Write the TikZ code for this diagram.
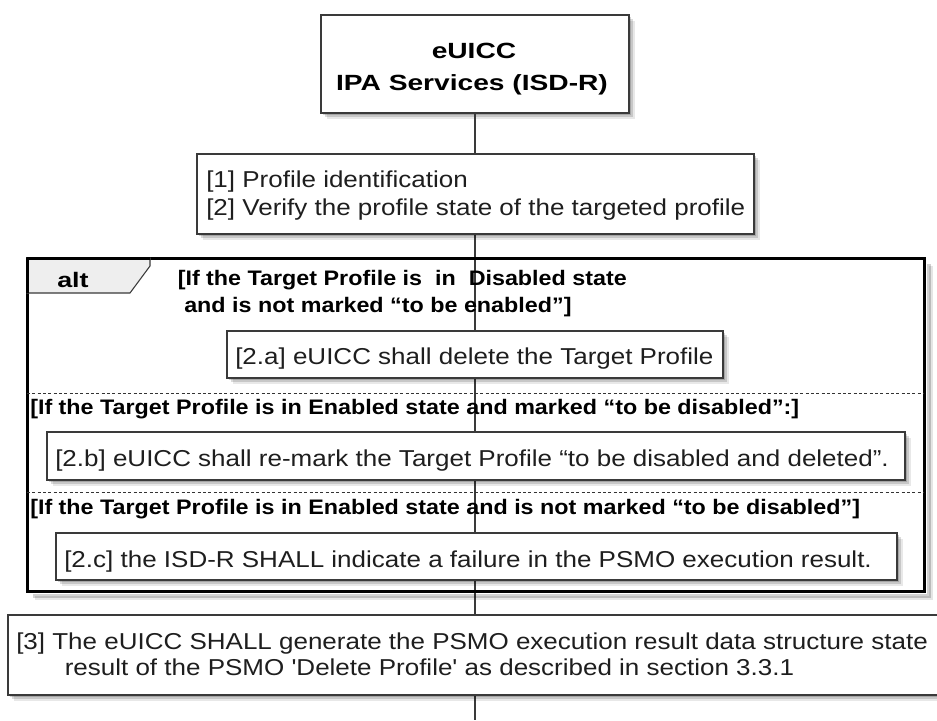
\documentclass[tikz,border=0pt]{standalone}
\usepackage{fontspec}
\setmainfont{Liberation Sans}
\newfontfamily\nomapfont{Liberation Sans}
\usepackage{graphicx}
\usetikzlibrary{shadows}
\newlength\px \setlength\px{0.75pt}
\definecolor{linegray}{HTML}{3A3A3A}
\definecolor{txtgray}{HTML}{1E1E1E}
\definecolor{tabgray}{HTML}{EEEEEE}
\newcommand\rtx[1]{\scalebox{1.13}[1]{#1}}
\newcommand\gtx[1]{\scalebox{1.11}[1]{#1}}
\newcommand\ttx[1]{\scalebox{1.28}[1]{#1}}
\newcommand\sq{{\nomapfont '}}
\tikzset{
  shad/.style={
    drop shadow={shadow xshift=1.5pt,shadow yshift=-1.5pt,opacity=0.17,fill=black},
    drop shadow={shadow xshift=3pt,shadow yshift=-3pt,opacity=0.14,fill=black},
    drop shadow={shadow xshift=4.5pt,shadow yshift=-4.5pt,opacity=0.09,fill=black}},
  notebox/.style={draw=linegray, line width=0.9pt, fill=white, shad,
    anchor=north west, inner sep=0pt, outer sep=0pt},
  rtext/.style={anchor=base west, inner sep=0pt, text=txtgray,
    font=\fontsize{17.25pt}{20pt}\selectfont},
  gtext/.style={anchor=base west, inner sep=0pt, text=black,
    font=\fontsize{15.75pt}{18pt}\selectfont\bfseries},
  ttext/.style={anchor=base, inner sep=0pt, text=black,
    font=\fontsize{16.5pt}{19pt}\selectfont\bfseries},
  lifeline/.style={draw=linegray, line width=0.8pt},
  divider/.style={draw=black!80, line width=0.75pt, dash pattern=on 2.2pt off 1.8pt},
}
\begin{document}
\begin{tikzpicture}[x=0.75pt,y=-0.75pt]
\useasboundingbox (0,0) rectangle (937,720);
\fill[white] (0,0) rectangle (937,720);

% participant
\node[notebox, line width=1.2pt, minimum width=308\px, minimum height=98\px] (top) at (321,15) {};
\node[ttext] (p1) at (474,59) {\ttx{eUICC}};
\node[ttext] (p2) at (472,91) {\ttx{IPA Services (ISD-R)}};

% lifeline
\coordinate (end) at (475,720);
\draw[lifeline] (top.south) -- (end);

% alt frame
\draw[black, opacity=0.18, line width=3pt] (928.5,264) -- (928.5,595.5) -- (33,595.5);
\draw[black, opacity=0.10, line width=3pt] (931,266) -- (931,598) -- (35,598);
\node[draw=black, line width=2.25pt, minimum width=897\px, minimum height=333\px,
      anchor=north west, inner sep=0pt, outer sep=0pt] (altframe) at (27,258) {};
\draw[draw=linegray, fill=tabgray, line width=0.8pt]
  (27,258) -- (150,258) -- (150,266) -- (130,293) -- (27,293) -- cycle;
\draw[draw=black, line width=2.25pt] (27,258) -- (150,258);
\draw[draw=black, line width=2.25pt] (27,258) -- (27,293);
\node[anchor=base west, inner sep=0pt, font=\fontsize{15.75pt}{18pt}\selectfont\bfseries] (alt) at (57,287) {\ttx{alt}};
\draw[divider] (27,393) -- (924,393);
\draw[divider] (27,492) -- (924,492);

% guards
\node[gtext] (g1a) at (177.5,285) {\gtx{[If the Target Profile is\ \ in\ \ Disabled state}};
\node[gtext] (g1b) at (184,312) {\gtx{and is not marked “to be enabled”]}};
\node[gtext] (g2) at (30,414) {\gtx{[If the Target Profile is in Enabled state and marked “to be disabled”:]}};
\node[gtext] (g3) at (30,514) {\gtx{[If the Target Profile is in Enabled state and is not marked “to be disabled”]}};

% notes
\node[notebox, minimum width=557\px, minimum height=80\px] (n12) at (197,154) {};
\node[rtext] (t1) at (206,188) {\rtx{[1] Profile identification}};
\node[rtext] (t2) at (206,215) {\rtx{[2] Verify the profile state of the targeted profile}};

\node[notebox, minimum width=496\px, minimum height=47\px] (n2a) at (227,331) {};
\node[rtext] (t2a) at (235,364) {\rtx{[2.a] eUICC shall delete the Target Profile}};

\node[notebox, minimum width=858\px, minimum height=48\px] (n2b) at (47,432) {};
\node[rtext] (t2b) at (55,466) {\rtx{[2.b] eUICC shall re-mark the Target Profile “to be disabled and deleted”.}};

\node[notebox, minimum width=841\px, minimum height=47\px] (n2c) at (56,533) {};
\node[rtext] (t2c) at (64,567) {\rtx{[2.c] the ISD-R SHALL indicate a failure in the PSMO execution result.}};

\node[notebox, minimum width=934\px, minimum height=80\px] (n3) at (8,615) {};
\node[rtext] (t3a) at (16,649) {\rtx{[3] The eUICC SHALL generate the PSMO execution result data structure state}};
\node[rtext] (t3b) at (64.5,675) {\rtx{result of the PSMO \sq Delete Profile\sq\ as described in section 3.3.1}};
\end{tikzpicture}
\end{document}
